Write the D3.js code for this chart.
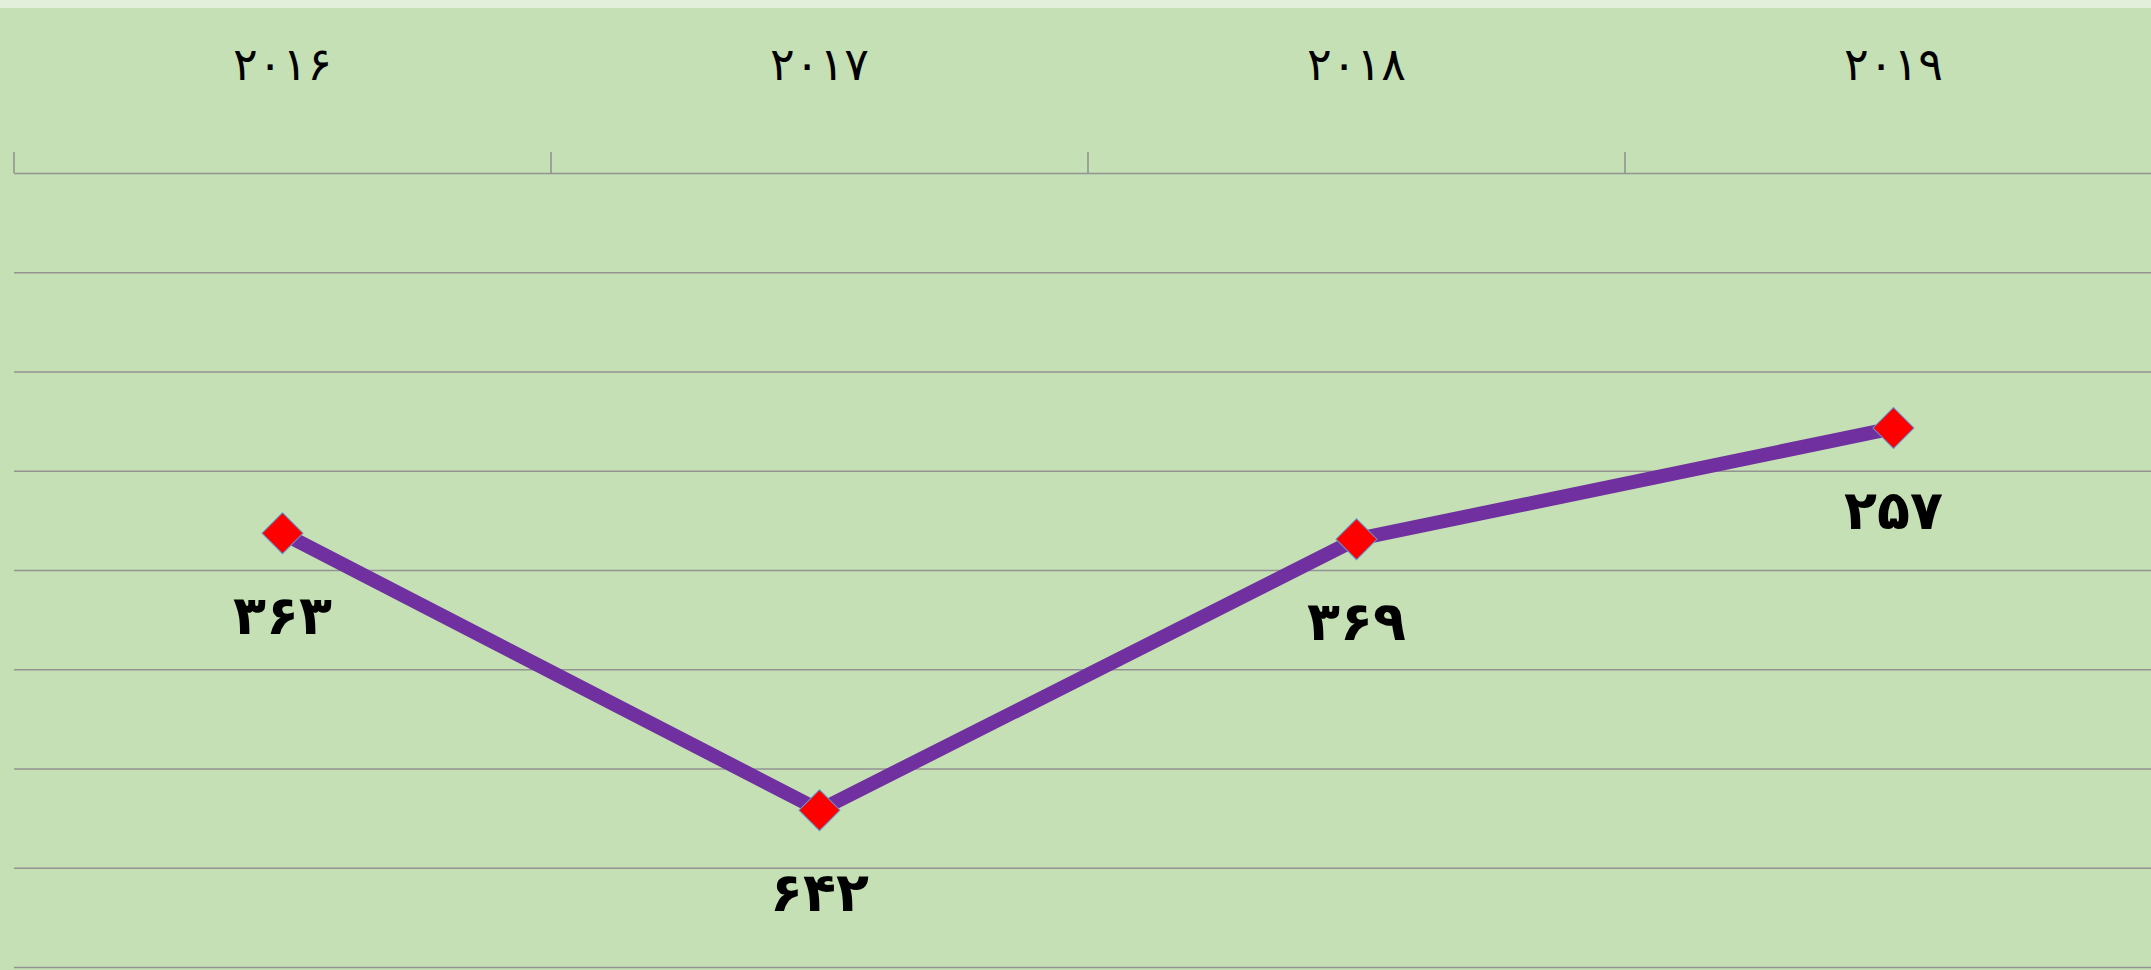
<!DOCTYPE html>
<html>
<head>
<meta charset="utf-8">
<script src="https://cdn.jsdelivr.net/npm/d3@7"></script>
<style>
  html, body { margin: 0; padding: 0; background: #C5E0B4; overflow: hidden; }
  text { font-family: "DejaVu Sans", sans-serif; }
</style>
</head>
<body>
<div id="chart"></div>
<script>
const years = [2016, 2017, 2018, 2019];
const values = [363, 642, 369, 257];
const yTicks = [0, 100, 200, 300, 400, 500, 600, 700, 800];

const W = 2151, H = 970;
const plot = { left: 14, top: 173, bandW: 537, bottom: 967 };

// ارقام فارسی
const fa = n => String(n).replace(/\d/g, c => "۰۱۲۳۴۵۶۷۸۹"[+c]);

const data = years.map((y, i) => ({ year: y, value: values[i] }));

const svg = d3.select("#chart")
    .append("svg")
        .attr("width", W)
        .attr("height", H);

svg.append("rect").attr("width", W).attr("height", H).attr("fill", "#C5E0B4");
svg.append("rect").attr("width", W).attr("height", 8).attr("fill", "#E2EFDA");

const x = d3.scaleBand()
    .domain(years)
    .range([plot.left, plot.left + plot.bandW * years.length]);

const y = d3.scaleLinear()
    .domain([0, 800])
    .range([plot.top, plot.bottom]);

// Gridlines
svg.append("g")
    .attr("transform", `translate(${plot.left},0)`)
    .call(d3.axisLeft(y).tickValues(yTicks).tickSize(-(W - plot.left)).tickFormat(""))
    .call(g => g.select(".domain").remove())
    .call(g => g.selectAll(".tick line")
        .attr("stroke", "#939393")
        .attr("stroke-width", 1.6));

// Category axis at top, ticks between categories
const bounds = years.map(d => x(d));
svg.append("g")
    .selectAll("line")
    .data(bounds)
    .enter()
    .append("line")
        .attr("x1", d => d).attr("x2", d => d)
        .attr("y1", plot.top - 21).attr("y2", plot.top)
        .attr("stroke", "#939393")
        .attr("stroke-width", 1.6);

svg.append("g")
    .selectAll("text")
    .data(years)
    .enter()
    .append("text")
        .attr("x", d => x(d) + x.bandwidth() / 2)
        .attr("y", 80)
        .attr("text-anchor", "middle")
        .style("font-size", "46px")
        .style("fill", "#000")
        .text(d => fa(d));

// Line
const line = d3.line()
    .x(d => x(d.year) + x.bandwidth() / 2)
    .y(d => y(d.value));

svg.append("path")
    .datum(data)
    .attr("d", line)
    .attr("fill", "none")
    .attr("stroke", "#7030A0")
    .attr("stroke-width", 14)
    .attr("stroke-linejoin", "miter");

// Markers
svg.append("g")
    .selectAll("rect")
    .data(data)
    .enter()
    .append("rect")
        .attr("x", -14.5).attr("y", -14.5)
        .attr("width", 29).attr("height", 29)
        .attr("transform", d => `translate(${x(d.year) + x.bandwidth() / 2},${y(d.value)}) rotate(45)`)
        .attr("fill", "#FF0000")
        .attr("stroke", "#5B9BD5")
        .attr("stroke-width", 1);

// Data labels
svg.append("g")
    .selectAll("text")
    .data(data)
    .enter()
    .append("text")
        .attr("x", d => x(d.year) + x.bandwidth() / 2)
        .attr("y", d => y(d.value) + 101)
        .attr("text-anchor", "middle")
        .style("font-size", "54px")
        .style("font-weight", "bold")
        .style("fill", "#000")
        .text(d => fa(d.value));
</script>
</body>
</html>
